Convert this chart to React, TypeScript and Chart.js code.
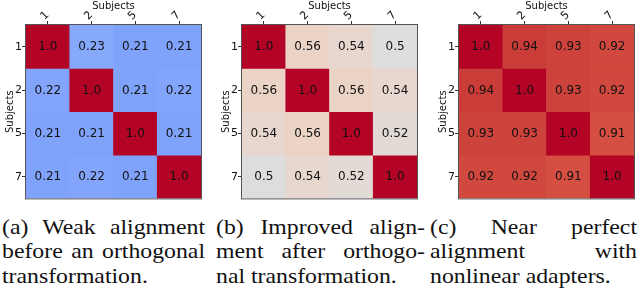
import React, { useEffect, useRef } from 'react';
import { Chart, registerables } from 'chart.js';

Chart.register(...registerables);

// ---- data ----
const subjects = ['1', '2', '5', '7'];

const weakValues = [
  [1.0, 0.23, 0.21, 0.21],
  [0.22, 1.0, 0.21, 0.22],
  [0.21, 0.21, 1.0, 0.21],
  [0.21, 0.22, 0.21, 1.0],
];

const orthogonalValues = [
  [1.0, 0.56, 0.54, 0.5],
  [0.56, 1.0, 0.56, 0.54],
  [0.54, 0.56, 1.0, 0.52],
  [0.5, 0.54, 0.52, 1.0],
];

const adapterValues = [
  [1.0, 0.94, 0.93, 0.92],
  [0.94, 1.0, 0.93, 0.92],
  [0.93, 0.93, 1.0, 0.91],
  [0.92, 0.92, 0.91, 1.0],
];

const captionA = ['(a) Weak alignment', 'before an orthogonal', 'transformation.'];
const captionB = ['(b) Improved align-', 'ment after orthogo-', 'nal transformation.'];
const captionC = ['(c) Near perfect', 'alignment with', 'nonlinear adapters.'];

// ---- coolwarm colormap (Moreland), 33 stops ----
const COOLWARM: number[][] = [
  [59, 76, 192], [68, 90, 204], [77, 104, 215], [87, 117, 225], [98, 130, 234],
  [108, 142, 241], [119, 154, 247], [130, 165, 251], [141, 176, 254], [152, 185, 255],
  [163, 194, 255], [174, 201, 253], [184, 208, 249], [194, 213, 244], [204, 217, 238],
  [213, 219, 230], [221, 221, 221], [229, 216, 209], [236, 211, 197], [241, 204, 185],
  [245, 196, 173], [247, 187, 160], [247, 177, 148], [247, 166, 135], [244, 154, 123],
  [241, 141, 111], [236, 127, 99], [229, 112, 88], [222, 96, 77], [213, 80, 66],
  [203, 62, 56], [192, 40, 47], [180, 4, 38],
];

function coolwarm(v: number): string {
  const t = Math.max(0, Math.min(1, v)) * (COOLWARM.length - 1);
  const i = Math.min(COOLWARM.length - 2, Math.floor(t));
  const f = t - i;
  const a = COOLWARM[i];
  const b = COOLWARM[i + 1];
  const c = a.map((av, k) => Math.round(av + (b[k] - av) * f));
  return `rgb(${c[0]},${c[1]},${c[2]})`;
}

function fmt(v: number): string {
  return Number.isInteger(v) ? v.toFixed(1) : String(v);
}

const FONT = '"DejaVu Sans", sans-serif';

const heatPlugin = {
  id: 'heatCells',
  afterDatasetsDraw(chart: any) {
    const ctx = chart.ctx;
    ctx.save();
    ctx.font = `12px ${FONT}`;
    ctx.fillStyle = '#111';
    ctx.textAlign = 'center';
    ctx.textBaseline = 'middle';
    chart.data.datasets.forEach((ds: any, i: number) => {
      const meta = chart.getDatasetMeta(i);
      meta.data.forEach((el: any, j: number) => {
        const p = el.getCenterPoint();
        ctx.fillText(fmt(ds.cellValues[j]), p.x, p.y + 0.5);
      });
    });
    const a = chart.chartArea;
    ctx.strokeStyle = '#555';
    ctx.lineWidth = 1;
    ctx.strokeRect(a.left - 0.5, a.top - 0.5, a.right - a.left + 1, a.bottom - a.top + 1);
    ctx.restore();
  },
};

function Heatmap({ values, left }: { values: number[][]; left: number }) {
  const ref = useRef<HTMLCanvasElement | null>(null);
  useEffect(() => {
    if (!ref.current) return;
    const tickGrid = {
      display: true,
      drawOnChartArea: false,
      drawTicks: true,
      tickLength: 4,
      color: '#333',
      offset: false,
    };
    const chart = new Chart(ref.current, {
      type: 'bar',
      data: {
        labels: subjects,
        datasets: values.map((row, r) => ({
          label: subjects[r],
          data: row.map(() => 1),
          cellValues: row,
          backgroundColor: row.map(coolwarm),
          borderWidth: 0,
          barPercentage: 1,
          categoryPercentage: 1,
          stack: 'rows',
        })) as any,
      },
      options: {
        animation: false,
        responsive: false,
        maintainAspectRatio: false,
        layout: { padding: { top: 0, left: 0, right: 5, bottom: 5 } },
        plugins: { legend: { display: false }, tooltip: { enabled: false } },
        scales: {
          x: {
            type: 'category',
            position: 'top',
            stacked: true,
            offset: true,
            grid: tickGrid,
            border: { display: false },
            ticks: {
              minRotation: 45,
              maxRotation: 45,
              padding: 0,
              color: '#111',
              font: { family: FONT, size: 11, lineHeight: 0.7 },
            },
            title: {
              display: true,
              text: 'Subjects',
              color: '#111',
              font: { family: FONT, size: 10, lineHeight: 1 },
              padding: { top: 1, bottom: 0 },
            },
            afterFit: (s: any) => {
              s.height = 25;
            },
          },
          y: {
            type: 'linear',
            min: 0,
            max: subjects.length,
            reverse: true,
            stacked: true,
            afterBuildTicks: (s: any) => {
              s.ticks = subjects.map((_, i) => ({ value: i + 0.5 }));
            },
            grid: tickGrid,
            border: { display: false },
            ticks: {
              callback: (_v: any, i: number) => subjects[i],
              padding: 0,
              color: '#111',
              font: { family: FONT, size: 11 },
            },
            title: {
              display: true,
              text: 'Subjects',
              color: '#111',
              font: { family: FONT, size: 10, lineHeight: 1 },
              padding: { top: 5, bottom: 0 },
            },
            afterFit: (s: any) => {
              s.width = 26;
            },
          },
        } as any,
      },
      plugins: [heatPlugin],
    });
    return () => chart.destroy();
  }, [values]);
  return (
    <canvas
      ref={ref}
      width={206}
      height={205}
      style={{ position: 'absolute', left, top: 0, width: 206, height: 205 }}
    />
  );
}

function Caption({ lines, left, width }: { lines: string[]; left: number; width: number }) {
  const scale = 1.08;
  return (
    <div
      style={{
        position: 'absolute',
        left,
        top: 214.5,
        width: width / scale,
        transform: `scaleX(${scale})`,
        transformOrigin: 'left top',
        fontFamily: '"Liberation Serif", "Times New Roman", serif',
        fontSize: 22,
        lineHeight: '24.5px',
        color: '#111',
      }}
    >
      {lines.map((ln, i) => (
        <div
          key={i}
          style={{
            whiteSpace: 'nowrap',
            textAlign: i === lines.length - 1 ? 'left' : 'justify',
            textAlignLast: i === lines.length - 1 ? 'left' : 'justify',
          }}
        >
          {ln}
        </div>
      ))}
    </div>
  );
}

export default function App() {
  return (
    <div
      style={{
        position: 'fixed',
        left: 0,
        top: 0,
        width: 640,
        height: 300,
        background: '#fff',
        overflow: 'hidden',
      }}
    >
      <Heatmap values={weakValues} left={0} />
      <Heatmap values={orthogonalValues} left={216} />
      <Heatmap values={adapterValues} left={433} />
      <Caption lines={captionA} left={2} width={203} />
      <Caption lines={captionB} left={216} width={209} />
      <Caption lines={captionC} left={430} width={207} />
    </div>
  );
}
